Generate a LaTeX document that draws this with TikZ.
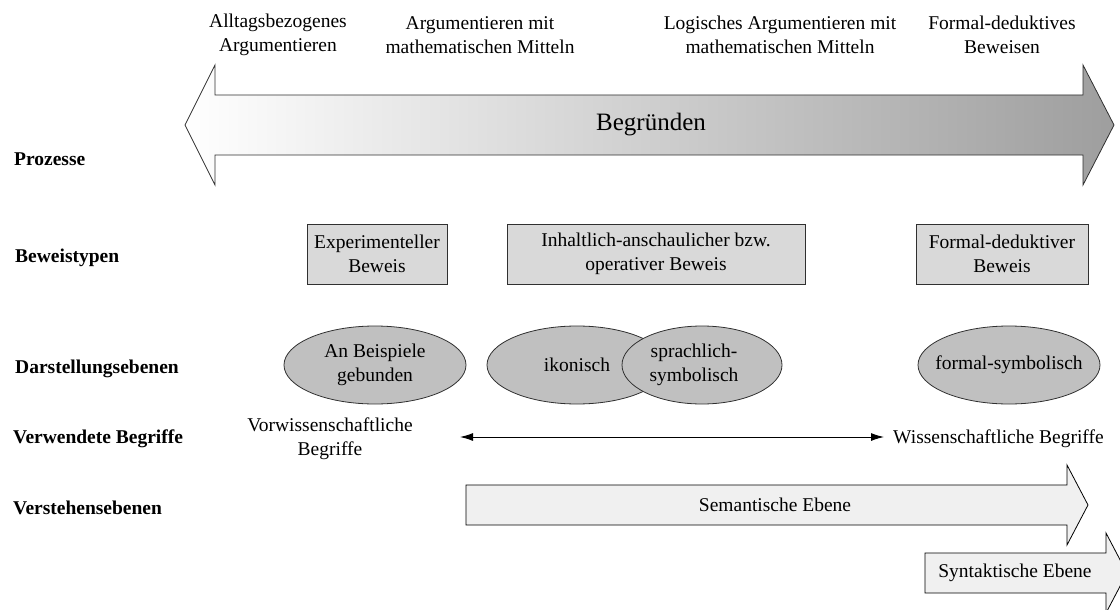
\documentclass[tikz,border=0pt]{standalone}
\usepackage{fontspec}
\setmainfont{Liberation Serif}
\usetikzlibrary{arrows.meta,shapes.geometric}
\definecolor{boxgray}{HTML}{D9D9D9}
\definecolor{ellgray}{HTML}{C0C0C0}
\definecolor{arrgray}{HTML}{F0F0F0}
\definecolor{edgegray}{HTML}{303030}
\begin{document}
\begin{tikzpicture}[x=1pt,y=-1pt,
  txt/.style={font=\fontsize{19.5}{24}\selectfont, align=center, inner sep=0pt},
  lbl/.style={font=\fontsize{19.5}{24}\selectfont\bfseries, anchor=west, inner sep=0pt},
  typbox/.style={draw=edgegray, fill=boxgray, line width=0.8pt, minimum height=60pt,
    inner sep=0pt, align=center, font=\fontsize{19.5}{24}\selectfont},
  ellnode/.style={ellipse, draw=edgegray, fill=ellgray, line width=0.8pt,
    minimum width=182pt, minimum height=78pt, inner sep=0pt, align=center,
    font=\fontsize{19.5}{24}\selectfont},
  levelarrow/.style={draw=black, fill=arrgray, line width=0.8pt, line join=miter}
]
\useasboundingbox (0,0) rectangle (1120,610);
\clip (0,0) rectangle (1120,610);

% top labels
\node[txt] (p1) at (278,35) {Alltagsbezogenes\\Argumentieren};
\node[txt] (p2) at (480,35) {Argumentieren mit\\mathematischen Mitteln};
\node[txt] (p3) at (780,35) {Logisches Argumentieren mit\\mathematischen Mitteln};
\node[txt] (p4) at (1002,35) {Formal-deduktives\\Beweisen};

% big double arrow
\path[draw=edgegray, line width=0.8pt, left color=white, right color=black!38, line join=miter]
  (185,125) -- (215,65) -- (215,95) -- (1083,95) -- (1083,65) -- (1114,125)
  -- (1083,185) -- (1083,155) -- (215,155) -- (215,185) -- cycle;
\node[font=\fontsize{25}{30}\selectfont, inner sep=0pt] (beg) at (651,125) {Begründen};

% row labels
\node[lbl] (l1) at (14,159) {Prozesse};
\node[lbl] (l2) at (15,258) {Beweistypen};
\node[lbl] (l3) at (15,369) {Darstellungsebenen};
\node[lbl] (l4) at (13,439) {Verwendete Begriffe};
\node[lbl] (l5) at (13,508) {Verstehensebenen};

% Beweistypen
\node[typbox, minimum width=140pt] (b1) at (377,254) {Experimenteller\\Beweis};
\node[typbox, minimum width=298pt] (b2) at (656,254) {Inhaltlich-anschaulicher bzw.\\operativer Beweis};
\node[typbox, minimum width=172pt] (b3) at (1002,254) {Formal-deduktiver\\Beweis};

% Darstellungsebenen
\node[ellnode] (e1) at (375,365) {An Beispiele\\gebunden};
\node[ellnode, minimum width=180pt] (e2) at (577,365) {ikonisch};
\node[ellnode, minimum width=160pt] (e3) at (702,365) {\makebox[0pt]{\hspace*{-16pt}\begin{tabular}{@{}c@{}}sprachlich-\\symbolisch\end{tabular}}};
\node[ellnode] (e4) at (1009,365) {\makebox[0pt]{formal-symbolisch}};

% Verwendete Begriffe
\node[txt] (v1) at (330,439) {Vorwissenschaftliche\\Begriffe};
\node[txt, anchor=west] (v2) at (893,439) {Wissenschaftliche Begriffe};
\coordinate (va) at (460,437);
\coordinate (vb) at (884,437);
\draw[line width=1pt, {Latex[length=13pt,width=8pt]}-{Latex[length=13pt,width=8pt]}] (va) -- (vb);

% Verstehensebenen
\path[levelarrow] (466,485) -- (1067,485) -- (1067,465) -- (1088,505) -- (1067,545)
  -- (1067,525) -- (466,525) -- cycle;
\node[txt] (s1) at (775,505) {Semantische Ebene};
\path[levelarrow] (925,553) -- (1106,553) -- (1106,533) -- (1127,573) -- (1106,613)
  -- (1106,593) -- (925,593) -- cycle;
\node[txt] (s2) at (1015,573) {Syntaktische Ebene};
\end{tikzpicture}
\end{document}
